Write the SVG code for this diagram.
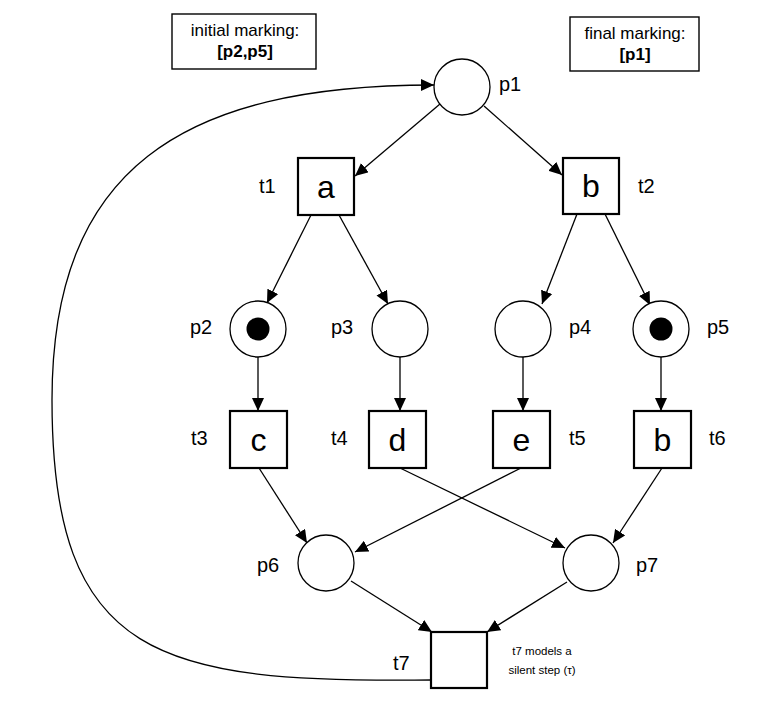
<svg xmlns="http://www.w3.org/2000/svg" width="774" height="706" viewBox="0 0 774 706">
<style>
text{font-family:"Liberation Sans",Arial,sans-serif;fill:#000}
.place{fill:#fff;stroke:#000;stroke-width:1.3}
.trans{fill:#fff;stroke:#000;stroke-width:2.2}
.token{fill:#000}
.lbl{font-size:20px}
.act{font-size:32px;text-anchor:middle}
.note{fill:#fff;stroke:#000;stroke-width:1.4}
.nt{font-size:17px;text-anchor:middle}
.nb{font-size:17px;text-anchor:middle;font-weight:bold}
.arc{fill:none;stroke:#000;stroke-width:1.3;marker-end:url(#ah)}
.small{font-size:11.5px;text-anchor:middle}
</style>
<defs>
<marker id="ah" markerUnits="userSpaceOnUse" markerWidth="14" markerHeight="12" viewBox="0 0 14 12" refX="13" refY="6" orient="auto">
<path d="M0,0 L13,6 L0,12 Z" fill="#000"/>
</marker>
</defs>
<rect width="774" height="706" fill="#fff"/>

<g id="connectors">
<path class="arc" d="M440,104 L355,176"/>
<path class="arc" d="M484,106 L562,175"/>
<path class="arc" d="M311,215 L267,303"/>
<path class="arc" d="M339,215 L388,304"/>
<path class="arc" d="M577,214 L542,304"/>
<path class="arc" d="M605,214 L650,305"/>
<path class="arc" d="M258,357 L258,411"/>
<path class="arc" d="M400,357 L400,411"/>
<path class="arc" d="M523,357 L523,411"/>
<path class="arc" d="M661,357 L661,411"/>
<path class="arc" d="M259,468 L307,543"/>
<path class="arc" d="M400,468 L565,548"/>
<path class="arc" d="M521,468 L355,552"/>
<path class="arc" d="M662,468 L613,543"/>
<path class="arc" d="M351,581 L432,632"/>
<path class="arc" d="M567,582 L487,632"/>
<path class="arc" d="M431,680 C160,683 52,660 52,400 C52,170 180,85 434,85"/>
</g>

<g id="initial-marking">
<rect class="note" x="172" y="14" width="144" height="55"/>
<text class="nt" x="245" y="36">initial marking:</text>
<text class="nb" x="245" y="57">[p2,p5]</text>
</g>
<g id="final-marking">
<rect class="note" x="570" y="17" width="129" height="54"/>
<text class="nt" x="635" y="39">final marking:</text>
<text class="nb" x="635" y="60">[p1]</text>
</g>

<g id="p1"><circle class="place" cx="462" cy="87" r="28"/><text class="lbl" x="499" y="91">p1</text></g>
<g id="t1"><rect class="trans" x="298" y="158" width="56" height="57"/><text class="act" x="326" y="198">a</text><text class="lbl" x="259" y="193">t1</text></g>
<g id="t2"><rect class="trans" x="563" y="158" width="56" height="56"/><text class="act" x="591" y="197">b</text><text class="lbl" x="638" y="193">t2</text></g>
<g id="p2"><circle class="place" cx="258" cy="329" r="28"/><circle class="token" cx="258" cy="329" r="11.5"/><text class="lbl" x="190" y="334">p2</text></g>
<g id="p3"><circle class="place" cx="400" cy="329" r="28"/><text class="lbl" x="331" y="334">p3</text></g>
<g id="p4"><circle class="place" cx="523" cy="329" r="28"/><text class="lbl" x="569" y="334">p4</text></g>
<g id="p5"><circle class="place" cx="661" cy="329" r="28"/><circle class="token" cx="661" cy="329" r="11.5"/><text class="lbl" x="707" y="334">p5</text></g>
<g id="t3"><rect class="trans" x="230" y="411" width="57" height="57"/><text class="act" x="258.5" y="451">c</text><text class="lbl" x="191" y="445">t3</text></g>
<g id="t4"><rect class="trans" x="369" y="411" width="57" height="57"/><text class="act" x="397.5" y="451">d</text><text class="lbl" x="331" y="445">t4</text></g>
<g id="t5"><rect class="trans" x="493" y="411" width="57" height="57"/><text class="act" x="521.5" y="451">e</text><text class="lbl" x="569" y="445">t5</text></g>
<g id="t6"><rect class="trans" x="634" y="411" width="57" height="57"/><text class="act" x="662.5" y="451">b</text><text class="lbl" x="709" y="445">t6</text></g>
<g id="p6"><circle class="place" cx="326" cy="563" r="28"/><text class="lbl" x="257" y="572">p6</text></g>
<g id="p7"><circle class="place" cx="591" cy="563" r="28"/><text class="lbl" x="636" y="572">p7</text></g>
<g id="t7"><rect class="trans" x="431" y="632" width="56" height="56"/><text class="lbl" x="393" y="670">t7</text></g>
<g id="t7-note">
<text class="small" x="542" y="655">t7 models a</text>
<text class="small" x="542" y="674">silent step (τ)</text>
</g>
</svg>
